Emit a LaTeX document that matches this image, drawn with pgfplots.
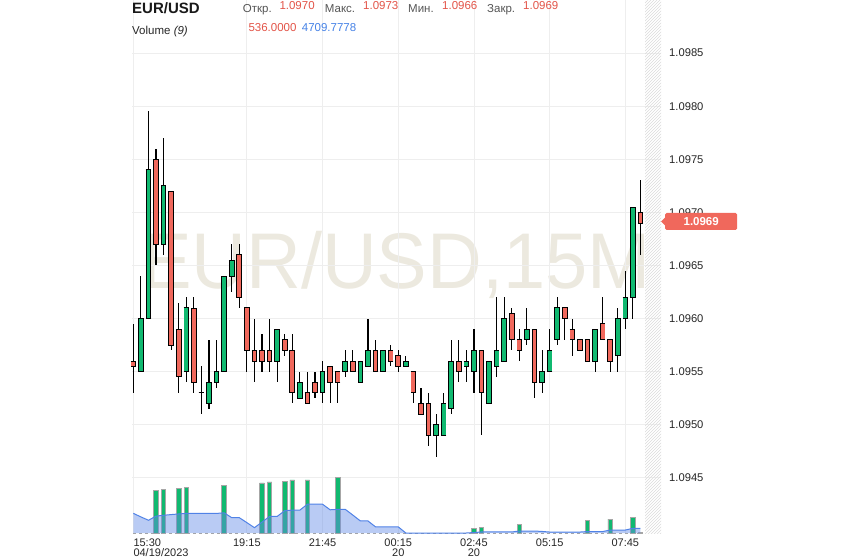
\documentclass[border=0pt]{standalone}
\usepackage{fontspec}
\setmainfont{Liberation Sans}
\usepackage{pgfplots}
\usepackage{pgfplotstable}
\usetikzlibrary{patterns}
\pgfplotsset{compat=1.18}

\definecolor{cgreen}{RGB}{16,185,112}
\definecolor{cred}{RGB}{240,104,92}
\definecolor{gridc}{RGB}{238,238,238}
\definecolor{wm}{RGB}{236,233,223}
\definecolor{txtred}{RGB}{226,84,72}
\definecolor{txtblue}{RGB}{70,130,230}
\definecolor{maline}{RGB}{80,130,230}
\definecolor{mafill}{RGB}{100,140,230}
\definecolor{lbl}{RGB}{85,85,85}

% 15-minute candles, EUR/USD
\pgfplotstableread{
i  o       h       l       c
0  1.09560 1.09595 1.09530 1.09555
1  1.09550 1.09640 1.09550 1.09600
2  1.09600 1.09795 1.09600 1.09740
3  1.09750 1.09760 1.09650 1.09670
4  1.09670 1.09770 1.09660 1.09725
5  1.09720 1.09720 1.09570 1.09575
6  1.09590 1.09615 1.09530 1.09545
7  1.09550 1.09620 1.09540 1.09610
8  1.09610 1.09620 1.09530 1.09540
9  1.09530 1.09555 1.09510 1.09530
10 1.09520 1.09580 1.09515 1.09540
11 1.09540 1.09580 1.09535 1.09550
12 1.09550 1.09640 1.09550 1.09640
13 1.09640 1.09670 1.09625 1.09655
14 1.09660 1.09670 1.09610 1.09620
15 1.09610 1.09610 1.09550 1.09570
16 1.09570 1.09600 1.09540 1.09560
17 1.09570 1.09585 1.09550 1.09560
18 1.09570 1.09600 1.09550 1.09560
19 1.09560 1.09590 1.09540 1.09590
20 1.09580 1.09585 1.09565 1.09570
21 1.09570 1.09585 1.09520 1.09530
22 1.09525 1.09550 1.09525 1.09540
23 1.09530 1.09550 1.09520 1.09520
24 1.09540 1.09550 1.09525 1.09530
25 1.09530 1.09560 1.09520 1.09550
26 1.09555 1.09555 1.09520 1.09540
27 1.09550 1.09550 1.09520 1.09540
28 1.09550 1.09570 1.09545 1.09560
29 1.09560 1.09570 1.09550 1.09550
30 1.09540 1.09560 1.09540 1.09560
31 1.09555 1.09600 1.09555 1.09570
32 1.09570 1.09580 1.09550 1.09550
33 1.09550 1.09570 1.09550 1.09570
34 1.09570 1.09575 1.09555 1.09560
35 1.09565 1.09570 1.09550 1.09555
36 1.09555 1.09565 1.09555 1.09560
37 1.09550 1.09550 1.09520 1.09530
38 1.09520 1.09535 1.09510 1.09510
39 1.09520 1.09530 1.09480 1.09490
40 1.09490 1.09510 1.09470 1.09500
41 1.09490 1.09530 1.09490 1.09520
42 1.09515 1.09580 1.09510 1.09560
43 1.09560 1.09580 1.09540 1.09550
44 1.09555 1.09570 1.09540 1.09560
45 1.09550 1.09590 1.09530 1.09570
46 1.09570 1.09570 1.09490 1.09530
47 1.09520 1.09560 1.09520 1.09560
48 1.09555 1.09620 1.09545 1.09570
49 1.09560 1.09620 1.09560 1.09600
50 1.09605 1.09610 1.09570 1.09580
51 1.09580 1.09590 1.09560 1.09570
52 1.09580 1.09610 1.09575 1.09590
53 1.09590 1.09590 1.09525 1.09540
54 1.09540 1.09570 1.09530 1.09550
55 1.09550 1.09590 1.09550 1.09570
56 1.09580 1.09620 1.09575 1.09610
57 1.09610 1.09610 1.09580 1.09600
58 1.09590 1.09600 1.09565 1.09580
59 1.09580 1.09580 1.09570 1.09570
60 1.09580 1.09580 1.09560 1.09560
61 1.09560 1.09590 1.09550 1.09590
62 1.09595 1.09620 1.09580 1.09580
63 1.09580 1.09580 1.09550 1.09560
64 1.09565 1.09610 1.09550 1.09600
65 1.09600 1.09645 1.09590 1.09620
66 1.09620 1.09705 1.09600 1.09705
67 1.09700 1.09730 1.09660 1.09690
}\candles

% volume and its 9-bar moving average
\pgfplotstableread{
i  vol   ma
0  0     19500
1  0     16000
2  0     12650
3  42500 16760
4  43100 17600
5  0     18300
6  44500 18900
7  45100 19467
8  0     19467
9  0     19467
10 0     19467
11 0     19467
12 47600 20033
13 0     15244
14 0     15244
15 0     10300
16 0     5289
17 49700 10811
18 50700 16444
19 0     16444
20 51300 22144
21 52700 22711
22 0     22711
23 52700 28567
24 0     28567
25 0     28567
26 0     23044
27 54800 23500
28 0     23500
29 0     17800
30 0     11944
31 0     11944
32 0     6089
33 0     6089
34 0     6089
35 0     6089
36 0     0
37 0     0
38 0     0
39 0     0
40 0     0
41 0     0
42 0     0
43 0     0
44 0     0
45 4100  456
46 5100  1022
47 0     1022
48 0     1022
49 0     1022
50 0     1022
51 8600  1978
52 0     1978
53 0     1978
54 0     1522
55 0     956
56 0     956
57 0     956
58 0     956
59 0     956
60 12700 1411
61 0     1411
62 0     1411
63 13750 2939
64 0     2939
65 0     2939
66 15402 4650
67 536   4709.78
}\volumes

\begin{document}
\begin{tikzpicture}
\path[use as bounding box] (0pt,0pt) rectangle (844pt,558pt);

% watermark
\node[text=wm, font=\fontsize{79}{79}\selectfont, xscale=0.96, inner sep=0pt, anchor=base]
  at (396pt,269.7pt) {EUR/USD,15M};

\begin{axis}[
    at={(131.8pt,25pt)}, anchor=south west, scale only axis,
    width=529.2pt, height=533pt,
    xmin=-0.2, xmax=69.71, ymin=1.09398, ymax=1.09900,
    clip=false,
    axis line style={draw=none}, major tick length=0pt,
    grid=major, grid style={gridc, line width=0.8pt},
    ytick={1.0945,1.0950,1.0955,1.0960,1.0965,1.0970,1.0975,1.0980,1.0985},
    yticklabels={1.0945,1.0950,1.0955,1.0960,1.0965,1.0970,1.0975,1.0980,1.0985},
    yticklabel pos=right,
    yticklabel style={font=\fontsize{11.2}{13}\selectfont, text=black!85, anchor=west, inner sep=0pt, xshift=8pt},
    xtick={15,25,35,45,55,65},
    xticklabels={19:15,21:45,{00:15\\20},{02:45\\20},05:15,07:45},
    xticklabel style={font=\fontsize{11}{9.6}\selectfont, text=black!85, align=center, anchor=north, inner sep=0pt, yshift=-6pt},
    extra x ticks={0},
    extra x tick labels={{15:30\\04/19/2023}},
    extra x tick style={grid=major, xticklabel style={anchor=north west, align=left}},
]
% hatched space after the last bar
\fill[pattern=north east lines, pattern color=black!14] (axis cs:67.6,1.09398) rectangle (axis cs:69.71,1.09900);

% wicks
\addplot[draw=none, mark=none, error bars/.cd, y dir=both, y explicit, error mark=none,
    error bar style={draw=black, line width=1.1pt}]
  table[x=i, y=c, y error plus expr=\thisrow{h}-\thisrow{c}, y error minus expr=\thisrow{c}-\thisrow{l}] {\candles};
% body outlines
\addplot[draw=none, mark=none, error bars/.cd, y dir=both, y explicit, error mark=none,
    error bar style={draw=black, line width=5.6pt}]
  table[x=i, y expr=0.5*(\thisrow{o}+\thisrow{c}), y error expr=0.5*abs(\thisrow{o}-\thisrow{c})] {\candles};
% rising bodies
\addplot[draw=none, mark=none, unbounded coords=discard, error bars/.cd, y dir=both, y explicit,
    error mark=|, error mark options={draw=black, line width=0.9pt, mark size=2.8pt},
    error bar style={draw=cgreen, line width=3.8pt}]
  table[x=i, y expr={\thisrow{c}>=\thisrow{o} ? 0.5*(\thisrow{o}+\thisrow{c}) : nan}, y error expr=0.5*abs(\thisrow{o}-\thisrow{c})] {\candles};
% falling bodies
\addplot[draw=none, mark=none, unbounded coords=discard, error bars/.cd, y dir=both, y explicit,
    error mark=|, error mark options={draw=black, line width=0.9pt, mark size=2.8pt},
    error bar style={draw=cred, line width=3.8pt}]
  table[x=i, y expr={\thisrow{c}<\thisrow{o} ? 0.5*(\thisrow{o}+\thisrow{c}) : nan}, y error expr=0.5*abs(\thisrow{o}-\thisrow{c})] {\candles};
\end{axis}

% volume overlay
\begin{axis}[
    at={(131.8pt,25pt)}, anchor=south west, scale only axis,
    width=529.2pt, height=533pt,
    xmin=-0.2, xmax=69.71, ymin=0, ymax=529300,
    hide axis, clip=false,
]
\draw[black!35, dashed, line width=0.6pt] (axis cs:0,0) -- (axis cs:67.3,0);
\addplot[ybar, bar width=4.6pt, bar shift=0pt, fill=cgreen, draw=black!35, line width=0.8pt,
    y filter/.expression={y==0 ? nan : y}]
  table[x=i, y=vol] {\volumes};
\addplot[fill=mafill, fill opacity=0.45, draw=none] table[x=i, y=ma] {\volumes} \closedcycle;
\addplot[maline, line width=1pt, mark=none] table[x=i, y=ma] {\volumes};
\end{axis}

% last price tag
\node[fill=cred, text=white, font=\bfseries\fontsize{11.5}{12}\selectfont, inner sep=0pt,
  minimum width=72pt, minimum height=17pt, anchor=west, rounded corners=1.5pt] (tag)
  at (665pt,336.5pt) {1.0969};
\fill[cred] ([yshift=-4pt]tag.west) -- ++(-4pt,4pt) -- ++(4pt,4pt) -- cycle;

% header
\node[anchor=base west, inner sep=0pt, font=\bfseries\fontsize{15}{15}\selectfont, text=black!90] at (132pt,544.7pt) {EUR/USD};
\begin{scope}[every node/.style={anchor=base west, inner sep=0pt, font=\fontsize{11.5}{12}\selectfont}]
\node[text=lbl] at (242.7pt,545.3pt) {Откр.};
\node[text=txtred] at (279.3pt,548pt) {1.0970};
\node[text=lbl] at (324.7pt,545.3pt) {Макс.};
\node[text=txtred] at (363pt,548pt) {1.0973};
\node[text=lbl] at (408pt,545.3pt) {Мин.};
\node[text=txtred] at (442pt,548pt) {1.0966};
\node[text=lbl] at (487pt,545.3pt) {Закр.};
\node[text=txtred] at (523pt,548pt) {1.0969};
\node[text=black!85] at (132pt,523.7pt) {Volume \textit{(9)}};
\node[text=txtred] at (248.3pt,526.3pt) {536.0000};
\node[text=txtblue] at (301.7pt,526.3pt) {4709.7778};
\end{scope}
\end{tikzpicture}
\end{document}
